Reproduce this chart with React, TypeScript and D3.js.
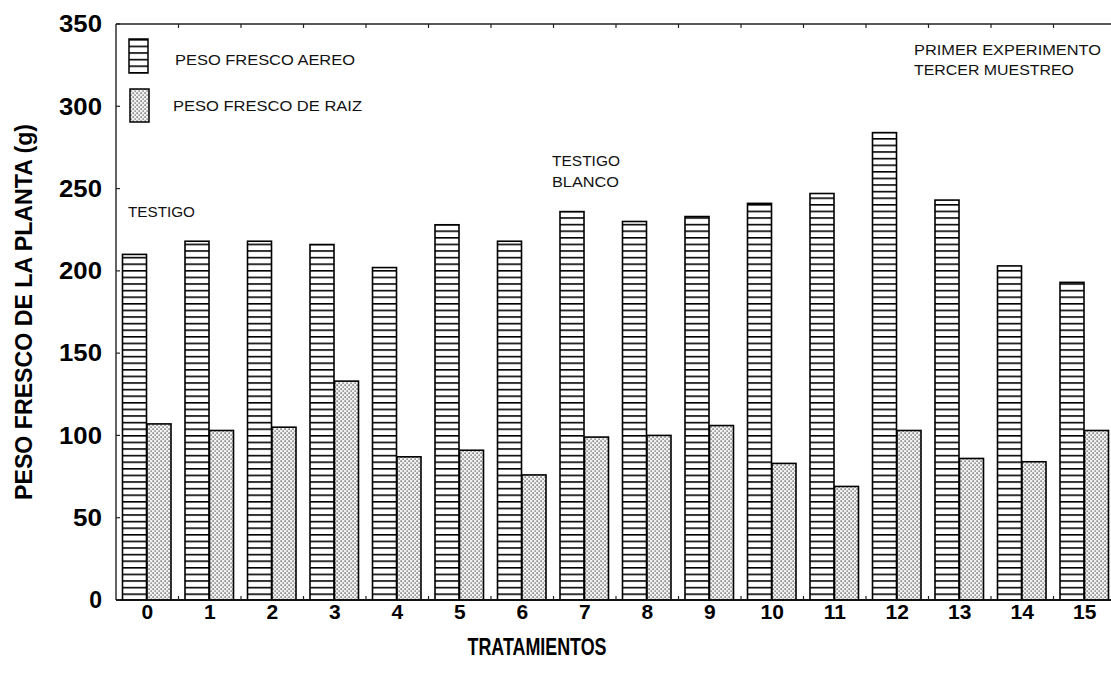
import React from "react";
import * as d3 from "d3";

const categories = ["0","1","2","3","4","5","6","7","8","9","10","11","12","13","14","15"];
const aereo = [210, 218, 218, 216, 202, 228, 218, 236, 230, 233, 241, 247, 284, 243, 203, 193];
const raiz = [107, 103, 105, 133, 87, 91, 76, 99, 100, 106, 83, 69, 103, 86, 84, 103];
const yTicks = [0, 50, 100, 150, 200, 250, 300, 350];
const seriesNames = ["PESO FRESCO AEREO", "PESO FRESCO DE RAIZ"];

const W = 1111, H = 682;
const left = 116, right = 1116, top = 24, bottom = 600;

export default function App() {
  const x = d3.scaleBand<string>().domain(categories).range([left, right]);
  const inner = d3.scaleBand<string>().domain(["a", "r"]).range([6.5, x.bandwidth() - 7.5]).paddingInner(0.02);
  const y = d3.scaleLinear().domain([0, 350]).range([bottom, top]);
  const font = "Arial, 'Liberation Sans', sans-serif";
  const small = { fontFamily: font, fontSize: 14, fill: "#111" } as const;

  return (
    <svg width={W} height={H} style={{ position: "absolute", left: 0, top: 0, background: "#fff" }}>
      <defs>
        <pattern id="hatch" patternUnits="userSpaceOnUse" width={8} height={6.6} y={bottom}>
          <rect width={8} height={6.6} fill="#fff" />
          <rect y={0} width={8} height={1.6} fill="#000" />
        </pattern>
        <pattern id="dots" patternUnits="userSpaceOnUse" width={4} height={4}>
          <rect width={4} height={4} fill="#f2f2f2" />
          <rect x={0.5} y={0.5} width={1.2} height={1.2} fill="#222" />
          <rect x={2.5} y={2.5} width={1.2} height={1.2} fill="#444" />
        </pattern>
      </defs>

      {categories.map((c, i) => {
        const bx = x(c)!;
        return (
          <g key={c}>
            <rect x={bx + inner("a")!} y={y(aereo[i])} width={inner.bandwidth()} height={y(0) - y(aereo[i])}
              fill="url(#hatch)" stroke="#000" strokeWidth={1.6} />
            <rect x={bx + inner("r")!} y={y(raiz[i])} width={inner.bandwidth()} height={y(0) - y(raiz[i])}
              fill="url(#dots)" stroke="#000" strokeWidth={1.6} />
          </g>
        );
      })}

      {/* axes frame */}
      <line x1={left} x2={left} y1={top} y2={bottom} stroke="#222" strokeWidth={1.4} />
      <line x1={left} x2={W} y1={top} y2={top} stroke="#222" strokeWidth={1.4} />
      <line x1={left} x2={W} y1={bottom} y2={bottom} stroke="#111" strokeWidth={2} />

      {yTicks.map((t) => (
        <g key={t}>
          <line x1={left} x2={left + 4} y1={y(t)} y2={y(t)} stroke="#222" strokeWidth={1.2} />
          <text x={102} y={y(t)} dy="0.36em" textAnchor="end" fontFamily={font} fontWeight="bold" fontSize={23}
            textLength={t === 0 ? undefined : t < 100 ? 29 : 43} lengthAdjust="spacingAndGlyphs" fill="#000">{t}</text>
        </g>
      ))}

      {categories.map((c, i) => {
        const bx = x(c)!;
        return (
          <g key={"t" + c}>
            {i > 0 && <line x1={bx} x2={bx} y1={bottom} y2={bottom - 4} stroke="#222" strokeWidth={1.2} />}
            {i > 0 && <line x1={bx} x2={bx} y1={top} y2={top + 4} stroke="#222" strokeWidth={1.2} />}
            <text x={bx + x.bandwidth() / 2} y={619} textAnchor="middle" fontFamily={font} fontWeight="bold"
              fontSize={21} fill="#000">{c}</text>
          </g>
        );
      })}

      {/* titles */}
      <text x={537} y={655} textAnchor="middle" fontFamily={font} fontWeight="bold" fontSize={23}
        textLength={139} lengthAdjust="spacingAndGlyphs" fill="#000">TRATAMIENTOS</text>
      <text transform="translate(32,312) rotate(-90)" textAnchor="middle" fontFamily={font} fontWeight="bold"
        fontSize={24} textLength={376} lengthAdjust="spacingAndGlyphs" fill="#000">PESO FRESCO DE LA PLANTA (g)</text>

      {/* legend */}
      <rect x={129} y={39} width={19} height={34} fill="url(#hatch)" stroke="#000" strokeWidth={1.5} />
      <rect x={130} y={89} width={19} height={33} fill="url(#dots)" stroke="#000" strokeWidth={1.5} />
      <text x={175} y={65} {...small} textLength={180} lengthAdjust="spacingAndGlyphs">{seriesNames[0]}</text>
      <text x={173} y={111} {...small} textLength={189} lengthAdjust="spacingAndGlyphs">{seriesNames[1]}</text>

      {/* annotations */}
      <text x={128} y={217} {...small} textLength={67} lengthAdjust="spacingAndGlyphs">TESTIGO</text>
      <text x={552} y={166} {...small} textLength={68} lengthAdjust="spacingAndGlyphs">TESTIGO</text>
      <text x={552} y={187} {...small} textLength={67} lengthAdjust="spacingAndGlyphs">BLANCO</text>
      <text x={914} y={55} {...small} textLength={187} lengthAdjust="spacingAndGlyphs">PRIMER EXPERIMENTO</text>
      <text x={914} y={75} {...small} textLength={160} lengthAdjust="spacingAndGlyphs">TERCER MUESTREO</text>
    </svg>
  );
}
